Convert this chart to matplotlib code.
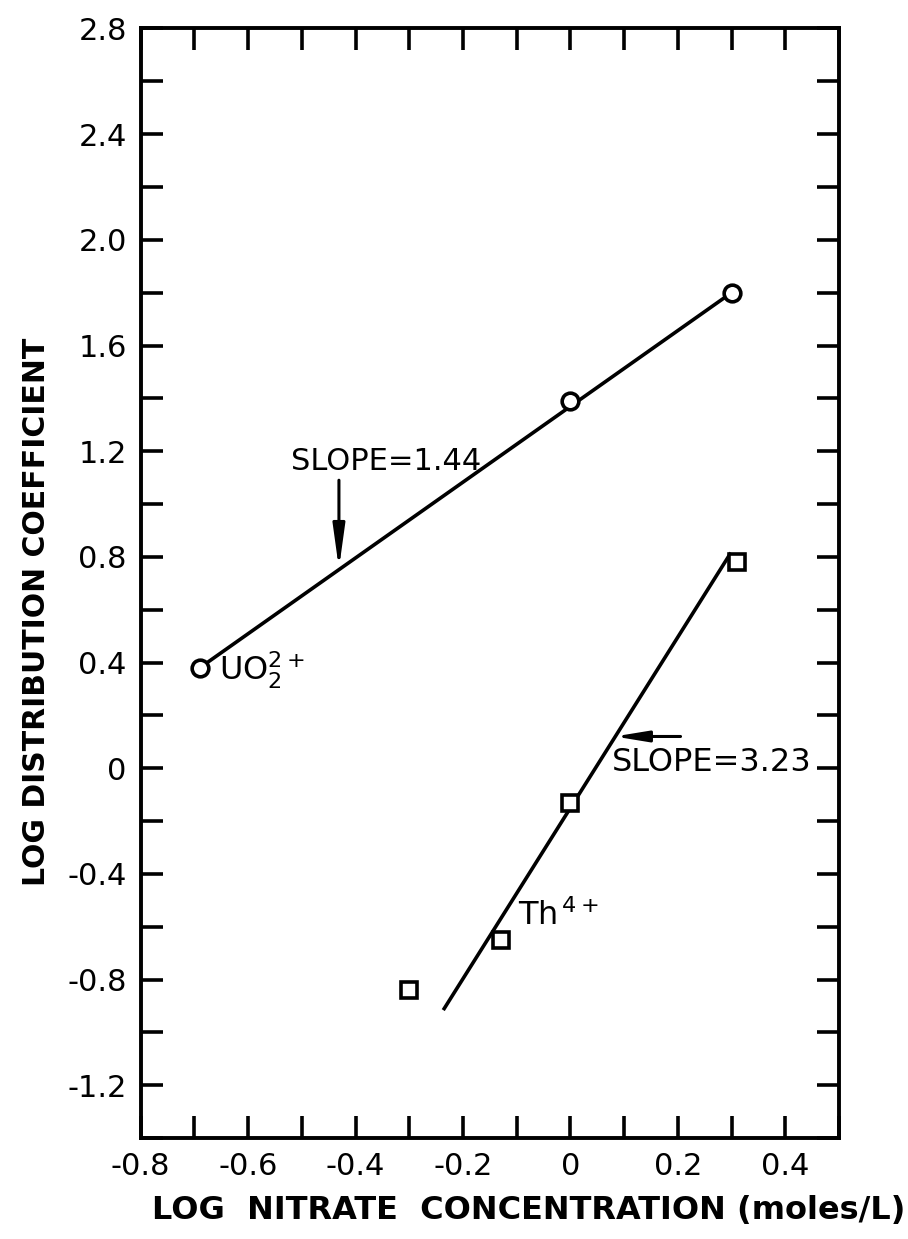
import matplotlib
matplotlib.use("Agg")
import matplotlib.pyplot as plt
from matplotlib.ticker import FixedLocator, MultipleLocator

# ---- data ----
uo2_x = [-0.69, 0.0, 0.30]
uo2_y = [0.38, 1.39, 1.80]
th_x = [-0.30, -0.13, 0.0, 0.31]
th_y = [-0.84, -0.65, -0.13, 0.78]
# fitted lines (end points as drawn)
uo2_fit_x = [-0.69, 0.30]
uo2_fit_y = [0.38, 1.80]
th_fit_x = [-0.235, 0.297]
th_fit_y = [-0.91, 0.81]

xticks = [-0.8, -0.6, -0.4, -0.2, 0.0, 0.2, 0.4]
xticklabels = ["-0.8", "-0.6", "-0.4", "-0.2", "0", "0.2", "0.4"]
yticks = [-1.2, -0.8, -0.4, 0.0, 0.4, 0.8, 1.2, 1.6, 2.0, 2.4, 2.8]
yticklabels = ["-1.2", "-0.8", "-0.4", "0", "0.4", "0.8", "1.2", "1.6", "2.0", "2.4", "2.8"]

plt.rcParams['font.family'] = ['DejaVu Sans']

fig = plt.figure(figsize=(9.08, 12.39), dpi=100)
ax = fig.add_axes([0.155, 0.0815, 0.769, 0.8955])

ax.plot(uo2_fit_x, uo2_fit_y, color='black', lw=2.6, zorder=2)
ax.plot(th_fit_x, th_fit_y, color='black', lw=2.6, zorder=2)
ax.plot(uo2_x, uo2_y, linestyle='none', marker='o', ms=12, mfc='white',
        mec='black', mew=2.6, zorder=3)
ax.plot(th_x, th_y, linestyle='none', marker='s', ms=12, mfc='white',
        mec='black', mew=2.6, zorder=3)

ax.set_xlim(-0.8, 0.5)
ax.set_ylim(-1.4, 2.8)

ax.xaxis.set_major_locator(FixedLocator(xticks))
ax.set_xticklabels(xticklabels)
ax.xaxis.set_minor_locator(MultipleLocator(0.1))
ax.yaxis.set_major_locator(FixedLocator(yticks))
ax.set_yticklabels(yticklabels)
ax.yaxis.set_minor_locator(MultipleLocator(0.2))

ax.tick_params(which='both', direction='in', top=True, right=True,
               length=16, width=2.6, labelsize=22, pad=10)
for s in ax.spines.values():
    s.set_linewidth(2.8)

ax.set_xlabel("LOG  NITRATE  CONCENTRATION (moles/L)", fontsize=23,
              fontweight='bold', labelpad=10)
ax.xaxis.label.set_x(0.555)
ax.set_ylabel("LOG DISTRIBUTION COEFFICIENT", fontsize=21.5,
              fontweight='bold', labelpad=12)
ax.yaxis.label.set_y(0.474)

# annotations
ax.text(-0.52, 1.16, "SLOPE=1.44", fontsize=22, va='center', ha='left')
ax.annotate("", xy=(-0.431, 0.755), xytext=(-0.431, 1.09),
            arrowprops=dict(arrowstyle='-|>,head_length=1.3,head_width=0.18',
                            mutation_scale=20, color='black', lw=2.2,
                            shrinkA=0, shrinkB=0))
ax.text(0.077, 0.02, "SLOPE=3.23", fontsize=23, va='center', ha='left')
ax.annotate("", xy=(0.082, 0.12), xytext=(0.205, 0.12),
            arrowprops=dict(arrowstyle='-|>,head_length=1.1,head_width=0.18',
                            mutation_scale=18, color='black', lw=2.2,
                            shrinkA=0, shrinkB=0))
ax.text(-0.655, 0.37, r"UO$_2^{2+}$", fontsize=23, va='center', ha='left')
ax.text(-0.098, -0.56, r"Th$^{\,4+}$", fontsize=23, va='center', ha='left')

fig.savefig("out.png", dpi=100)
